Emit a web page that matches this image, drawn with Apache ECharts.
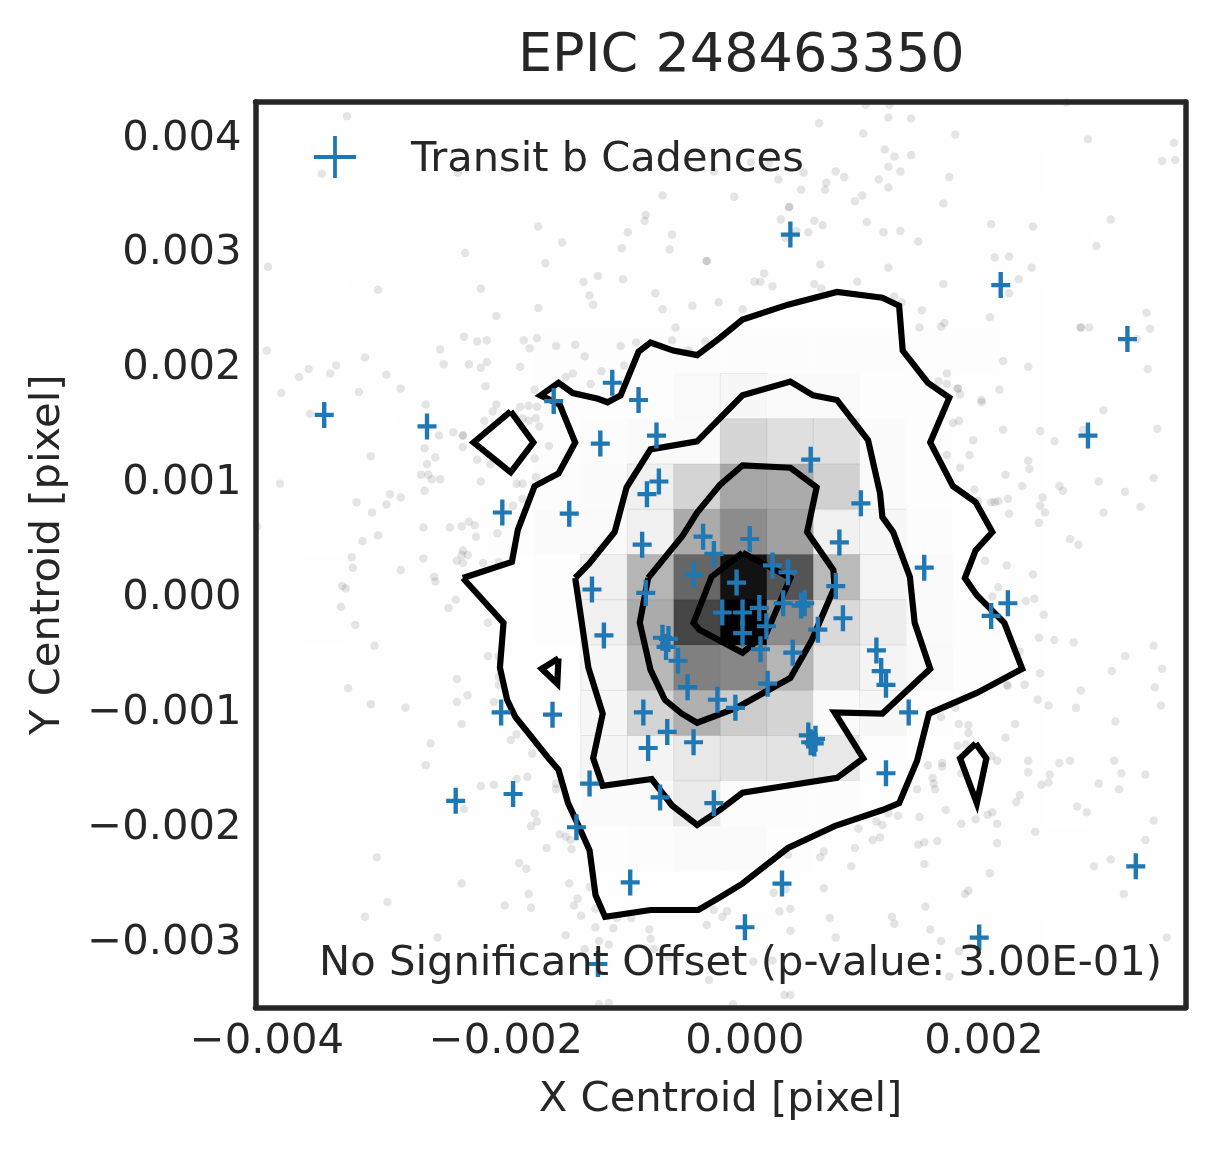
<!DOCTYPE html>
<html>
<head>
<meta charset="UTF-8">
<title>EPIC 248463350</title>
<script src="https://cdn.jsdelivr.net/npm/echarts@6/dist/echarts.min.js"></script>
<style>
body { margin: 0; background: #fff; }
#main { width: 1215px; height: 1149px; }
</style>
</head>
<body>
<div id="main"></div>
<script type="text/javascript">
// all centroid values below are in units of 1e-5 pixel: [x, y]
var UNIT = 1e-5;

var xTicks = [-0.004, -0.002, 0, 0.002];
var yTicks = [-0.003, -0.002, -0.001, 0, 0.001, 0.002, 0.003, 0.004];

// 2d histogram, 20 x 20 bins, top row first, 0-100 = white-black
var histCounts = [
[0,0,0,0,0,0,0,0,0,0,0,0,0,0,0,0,0,0,0,0],
[0,0,0,.4,.4,.4,.4,.4,.4,.4,.4,.4,.4,.4,.4,.4,.4,0,0,0],
[0,0,0,0,0,.4,.4,.4,.4,.4,.4,.4,.4,.4,.4,.4,.4,.4,0,0],
[.4,.4,.4,.4,.4,.4,.4,.4,.4,.4,.4,.4,.4,.4,.4,.4,.4,.4,.4,0],
[0,0,.4,.4,.4,.4,.4,.4,.4,.4,.4,.4,.4,.4,.4,.4,.4,0,0,0],
[0,0,.4,.4,.4,.4,.6,.6,.6,1,1.2,1.2,1.2,1,.6,.6,.4,0,0,0],
[0,0,.4,.4,.4,.4,.8,.8,.8,2.5,3,2,2,.8,.6,.4,.4,0,0,0],
[0,0,0,.4,.4,.4,.8,1.2,2,2,16,13,12,1.5,.6,.4,.4,0,0,0],
[0,0,0,.4,.4,.4,1,1.5,6,17,35,33,18,2,.8,.4,.4,0,0,0],
[0,0,.4,.4,.4,.6,2,2,6,33,45,37,6,3,1,.5,.4,0,0,0],
[0,.4,.4,.4,.4,.5,.8,6,29,60,93,67,27,4,2,.4,.4,0,0,0],
[0,.4,.4,.4,.4,.5,.8,6,33,73,100,45,15,7,2,.8,.4,0,0,0],
[0,0,.4,.4,.4,.4,.5,3.5,28,50,47,29,10,4.5,2.5,.8,.4,0,0,0],
[0,0,.4,.4,.4,.4,.5,3,17,31,20,17,2,3,.8,.4,.4,0,0,0],
[0,0,0,.4,.4,.4,.4,4,4.5,9,11,11,9,.8,.5,.4,.4,0,0,0],
[0,0,0,.4,.4,.4,.5,2,2,8,1.2,1.2,1,.5,.4,.4,.4,0,0,0],
[0,0,0,.4,.4,.4,.4,.8,1,2,2,.8,.5,.4,.4,.4,.4,.4,0,0],
[0,0,0,0,.4,.4,.4,.5,.5,.5,.5,.4,.4,.4,.4,.4,.4,.4,0,0],
[0,0,0,0,0,.4,.4,.4,.4,.4,.4,.4,.4,.4,.4,.4,.4,0,0,0],
[0,0,0,0,0,0,0,0,0,0,0,0,0,0,0,0,0,0,0,0]
];

var contourOuter = [[-236,15],[-195,29],[-190,57],[-176,95],[-156,106],[-142,133],[-155,166],[-171,174],[-156,185],[-144,176],[-123,171],[-115,168],[-104,174],[-89,212],[-79,220],[-60,213],[-40,209],[-21,224],[-2,240],[36,253],[77,264],[115,259],[129,252],[132,213],[153,185],[171,172],[155,133],[174,95],[193,81],[207,55],[193,39],[184,15],[194,0],[217,-24],[232,-64],[194,-85],[154,-103],[144,-144],[129,-181],[115,-187],[75,-201],[36,-220],[-2,-251],[-21,-263],[-39,-274],[-79,-274],[-117,-280],[-125,-261],[-130,-222],[-140,-199],[-148,-181],[-156,-152],[-165,-141],[-192,-106],[-199,-91],[-205,-63],[-202,-24],[-236,15]];
var contourMid = [[-142,15],[-130,28],[-109,55],[-99,94],[-79,127],[-40,134],[-2,174],[38,186],[57,174],[77,170],[103,135],[113,89],[115,68],[124,55],[138,16],[142,-24],[155,-64],[115,-103],[75,-102],[99,-142],[77,-159],[-2,-172],[-21,-187],[-40,-200],[-61,-183],[-78,-160],[-119,-166],[-127,-142],[-119,-103],[-131,-63],[-142,15]];
var contourInner = [[-81,15],[-52,52],[-40,72],[-21,96],[-2,113],[38,111],[60,94],[52,55],[74,22],[75,7],[56,-39],[38,-72],[-7,-98],[-40,-111],[-53,-103],[-67,-91],[-79,-65],[-88,-24],[-81,15]];
var contourCore = [[-2,37],[-28,16],[-43,-24],[-38,-30],[-2,-50],[18,-33],[38,15],[18,26],[-2,37]];
var islandLeft = [[-196,160],[-177,133],[-196,107],[-227,133],[-196,160]];
var islandSmall = [[-156,-55],[-170,-64],[-157,-77],[-156,-55]];
var islandRight = [[193,-129],[202,-142],[194,-181],[180,-142],[193,-129]];

var transitCadences = [[38,314],[214,270],[320,223],[-352,157],[-266,147],[-160,169],[-111,185],[-89,170],[-121,132],[-74,139],[287,139],[55,118],[-72,99],[-82,88],[-203,72],[-147,71],[97,80],[-35,51],[4,49],[-86,44],[-26,36],[79,46],[150,24],[-43,18],[-7,11],[23,26],[36,20],[-128,5],[-83,2],[76,8],[32,-7],[47,-9],[50,-7],[220,-7],[206,-18],[-19,-15],[-2,-15],[12,-11],[18,-27],[-2,-33],[61,-30],[82,-20],[-118,-35],[-69,-37],[-64,-38],[-66,-45],[-56,-57],[13,-47],[40,-50],[110,-48],[114,-66],[118,-78],[19,-77],[-48,-80],[-23,-91],[-8,-98],[-85,-102],[-204,-102],[-161,-104],[-65,-119],[-43,-128],[-81,-133],[137,-102],[53,-122],[59,-125],[55,-128],[58,-129],[118,-155],[-242,-179],[-194,-173],[-130,-164],[-71,-176],[-26,-181],[-141,-202],[-96,-250],[31,-251],[0,-289],[196,-298],[327,-236],[-123,-321]];

var otherCadences = [
[-333,417],[-354,367],[-240,368],[-26,369],[-69,348],[-83,331],[-84,326],[-173,321],[-98,316],[-61,314],[-153,307],[-103,302],[-63,301],[-234,298],[-32,291],[-32,291],[-167,289],[-399,286],[-123,278],[-102,275],[-135,273],[-307,266],[-221,267],[-130,261],[-75,263],[-127,253],[-22,255],[-44,252],[-173,250],[-69,249],[-208,243],[-58,233],[-235,225],[-224,221],[-216,222],[-185,222],[-174,224],[-91,220],[-61,222],[-33,221],[-400,213],[-255,214],[-180,215],[-158,217],[-142,218],[-104,217],[-318,207],[-134,208],[-47,213],[-342,200],[-252,201],[-231,201],[-216,203],[-221,198],[-188,199],[-101,200],[-365,197],[-347,193],[-120,195],[-144,193],[-150,190],[-373,190],[-300,192],[-129,184],[-217,182],[-288,180],[-176,179],[-388,176],[-323,177],
[62,411],[120,416],[139,415],[99,402],[176,401],[287,397],[359,394],[117,388],[125,382],[139,383],[5,377],[20,376],[349,378],[360,379],[120,373],[130,369],[49,368],[76,369],[83,364],[28,362],[112,362],[171,364],[68,359],[47,353],[67,353],[120,355],[-9,347],[98,348],[92,343],[166,341],[37,338],[37,338],[30,327],[58,326],[65,322],[102,325],[206,323],[241,321],[306,327],[43,317],[53,316],[116,316],[130,317],[34,311],[145,308],[294,304],[209,294],[221,295],[63,288],[120,285],[240,285],[16,280],[229,275],[8,273],[13,273],[58,271],[94,273],[166,271],[23,269],[64,267],[221,263],[125,260],[131,255],[148,248],[-2,249],[336,246],[205,242],[164,234],[167,237],[146,233],[281,233],[281,233],[288,233],[339,232],[328,223],[216,204],[237,199],[337,197],[169,193],[162,186],[169,184],[178,180],[178,180],[213,179],[180,175],[198,170],[101,427],[121,427],[269,429],
[-364,158],[-267,166],[-208,166],[-188,164],[-181,165],[-174,164],[-211,160],[-218,152],[-186,154],[-181,152],[-175,154],[-172,147],[-244,142],[-256,139],[-236,139],[-236,139],[-236,129],[-268,128],[-164,130],[-313,121],[-259,120],[-224,118],[-176,119],[-266,114],[-213,114],[-271,105],[-265,105],[-262,101],[-255,101],[-175,103],[-221,99],[-389,97],[-191,97],[-186,97],[-268,91],[-297,88],[-288,85],[-186,84],[-325,81],[-300,79],[-194,78],[-312,72],[-231,64],[-226,61],[-237,60],[-247,59],[-269,59],[-408,60],[-207,54],[-307,52],[-225,51],[-320,47],[-236,39],[-237,35],[-232,35],[-329,33],[-269,32],[-241,30],[-236,28],[-219,28],[-206,29],[-328,24],[-288,22],[-260,16],[-259,12],[-337,8],[-334,6],[-242,-4],[-248,-11],[-338,-10],[-326,-26],[-215,-24],[-310,-44],[-215,-53],[-206,-53],[-241,-73],[-206,-71],[-206,-78],[-332,-81],[-232,-87],[-241,-93],[-313,-95],[-284,-98],[-210,-93],
[198,168],[300,161],[174,150],[179,152],[345,145],[216,144],[247,143],[283,144],[191,135],[259,134],[169,122],[188,122],[237,117],[180,111],[238,110],[218,105],[342,102],[296,99],[232,95],[263,95],[266,91],[192,92],[318,90],[249,85],[195,82],[206,81],[209,81],[212,82],[220,84],[247,78],[331,77],[221,71],[251,72],[300,72],[246,63],[272,49],[279,44],[201,30],[219,26],[241,18],[212,7],[207,-1],[235,-5],[242,-3],[250,-17],[246,-37],[259,-39],[275,-41],[342,-44],[230,-49],[318,-53],[307,-66],[349,-64],[247,-68],[219,-78],[220,-79],[234,-78],[343,-80],[281,-83],[245,-91],[254,-96],[277,-98],[348,-96],
[-237,-112],[-263,-129],[-191,-121],[-196,-126],[-267,-148],[-178,-138],[-182,-158],[-191,-160],[-221,-166],[-210,-165],[-158,-164],[-158,-169],[-235,-186],[-176,-190],[-174,-197],[-179,-201],[-155,-208],[-150,-210],[-146,-213],[-166,-220],[-145,-221],[-308,-228],[-189,-233],[-183,-238],[-237,-251],[-147,-251],[-130,-254],[-181,-260],[-299,-267],[-140,-264],[-201,-270],[-143,-270],[-179,-272],[-125,-273],[-318,-280],[-137,-279],[-26,-274],[-19,-280],[-107,-281],[-95,-281],[-32,-287],[-125,-289],[-110,-290],[-80,-291],[-150,-296],[-257,-298],[-79,-299],[-122,-301],[-114,-304],[-134,-308],[-76,-308],[-64,-315],[-30,-335],[-122,-356],[-114,-355],[-326,-321],
[164,-106],[176,-98],[179,-112],[187,-113],[226,-112],[310,-110],[187,-120],[218,-124],[178,-131],[185,-130],[206,-140],[211,-144],[237,-144],[263,-146],[272,-144],[309,-144],[153,-148],[165,-146],[165,-149],[237,-154],[255,-156],[315,-155],[335,-156],[157,-159],[158,-164],[181,-155],[248,-165],[254,-163],[296,-164],[144,-169],[159,-169],[313,-169],[230,-174],[227,-180],[196,-172],[278,-184],[286,-189],[168,-187],[207,-189],[203,-191],[128,-192],[120,-190],[146,-193],[181,-199],[193,-195],[211,-199],[342,-196],[110,-197],[115,-200],[95,-203],[243,-206],[107,-213],[113,-211],[335,-213],[145,-217],[150,-215],[161,-214],[211,-216],[92,-220],[66,-223],[63,-228],[36,-226],[292,-236],[306,-230],[89,-236],[150,-234],[205,-242],[66,-255],[24,-259],[34,-256],[187,-257],[184,-260],[317,-260],[151,-271],[29,-275],[38,-273],[-15,-275],[71,-281],[123,-280],[125,-286],[38,-292],[155,-291],[76,-298],[164,-301],[353,-298],[179,-310],[7,-319],[23,-318],[171,-332],[33,-348],[38,-348],[-10,-356]
];

function toData(list) {
	return list.map(function (p) { return [p[0] * UNIT, p[1] * UNIT]; });
}

// darker cells get a hairline edge, the almost white ones none
var heatData = [];
histCounts.forEach(function (row, r) {
	row.forEach(function (v, c) {
		if (v > 0) {
			heatData.push({
				value: [c, r, v],
				itemStyle: { borderColor: 'rgba(0,0,0,0.09)', borderWidth: v >= 3 ? 0.8 : 0 }
			});
		}
	});
});

var binLabels = [];
for (var i = 0; i < 20; i++) binLabels.push(String(i));

// plus made of two bars, series markers are taller than wide
var plusPath = 'path://M38.5 0H61.5V42H100V58H61.5V100H38.5V58H0V42H38.5Z';
var legendPlus = 'path://M45.5 0H54.5V45.5H100V54.5H54.5V100H45.5V54.5H0V45.5H45.5Z';

var frameColor = '#262626';
var textColor = '#262626';
var fontName = '"DejaVu Sans"';
var labelSize = 41.7;
var frameLine = { show: true, onZero: false, lineStyle: { color: frameColor, width: 5.5 } };

function tickText(v) {
	return v.toFixed(3).replace('-', '\u2212');
}

// rich token pushed to the bottom of a taller line moves the text down a little
function yTickText(v) {
	return '{t|' + tickText(v) + '}';
}

var contourSeries = [contourOuter, contourMid, contourInner, contourCore, islandLeft, islandSmall, islandRight].map(function (c) {
	return {
		type: 'line',
		data: toData(c),
		symbol: 'none',
		silent: true,
		z: 3,
		lineStyle: { color: '#000', width: 6.2, join: 'miter' }
	};
});

var myChart = echarts.init(document.getElementById('main'));

var option = {
	animation: false,
	backgroundColor: '#fff',
	textStyle: { fontFamily: fontName },
	title: [
		{ text: 'EPIC 248463350', left: 513, top: 25, textStyle: { fontFamily: fontName, fontSize: 54, fontWeight: 'normal', color: textColor } },
		{ text: 'No Significant Offset (p-value: 3.00E-01)', left: 314, top: 938, z: 20, textStyle: { fontFamily: fontName, fontSize: labelSize, fontWeight: 'normal', color: textColor } }
	],
	legend: {
		data: ['Transit b Cadences'],
		left: 309,
		top: 131,
		itemWidth: 42,
		itemHeight: 42,
		icon: legendPlus,
		formatter: '{t|{name}}',
		textStyle: {
			rich: {
				t: { fontFamily: fontName, fontSize: 41.5, color: textColor, lineHeight: 48, verticalAlign: 'bottom', padding: [0, 0, 0, 50] }
			}
		}
	},
	grid: { left: 255.5, top: 102, width: 930, height: 905.5, containLabel: false },
	xAxis: [
		{
			type: 'value',
			min: -0.004095,
			max: 0.003686,
			position: 'bottom',
			z: 10,
			name: 'X Centroid [pixel]',
			nameLocation: 'middle',
			nameGap: 72,
			nameTextStyle: { fontFamily: fontName, fontSize: labelSize, color: textColor },
			axisLine: frameLine,
			axisTick: { show: false },
			splitLine: { show: false },
			axisLabel: { customValues: xTicks, formatter: tickText, fontFamily: fontName, fontSize: labelSize, color: textColor, margin: 14 }
		},
		{
			type: 'category',
			data: binLabels,
			position: 'top',
			z: 10,
			axisLine: frameLine,
			axisTick: { show: false },
			axisLabel: { show: false },
			splitLine: { show: false }
		}
	],
	yAxis: [
		{
			type: 'value',
			min: -0.003589,
			max: 0.004294,
			position: 'left',
			z: 10,
			name: 'Y Centroid [pixel]',
			nameLocation: 'middle',
			nameGap: 186,
			nameTextStyle: { fontFamily: fontName, fontSize: labelSize, color: textColor },
			axisLine: frameLine,
			axisTick: { show: false },
			splitLine: { show: false },
			axisLabel: {
				customValues: yTicks,
				formatter: yTickText,
				margin: 14,
				rich: {
					t: { fontFamily: fontName, fontSize: labelSize, color: textColor, lineHeight: 48, verticalAlign: 'bottom' }
				}
			}
		},
		{
			type: 'category',
			data: binLabels,
			inverse: true,
			position: 'right',
			z: 10,
			axisLine: frameLine,
			axisTick: { show: false },
			axisLabel: { show: false },
			splitLine: { show: false }
		}
	],
	visualMap: {
		show: false,
		seriesIndex: 0,
		min: 0,
		max: 100,
		inRange: { color: ['#ffffff', '#000000'] }
	},
	series: [
		{
			type: 'heatmap',
			xAxisIndex: 1,
			yAxisIndex: 1,
			data: heatData,
			silent: true,
			z: 1
		},
		{
			type: 'scatter',
			data: toData(otherCadences),
			symbol: 'circle',
			symbolSize: 8.5,
			silent: true,
			z: 2,
			itemStyle: { color: 'rgba(0,0,0,0.1)', opacity: 1 }
		}
	].concat(contourSeries).concat([
		{
			name: 'Transit b Cadences',
			type: 'scatter',
			data: toData(transitCadences),
			symbol: plusPath,
			symbolSize: [19, 26],
			silent: true,
			z: 5,
			itemStyle: { color: '#1f77b4', opacity: 1 }
		}
	])
};

myChart.setOption(option);
</script>
</body>
</html>
